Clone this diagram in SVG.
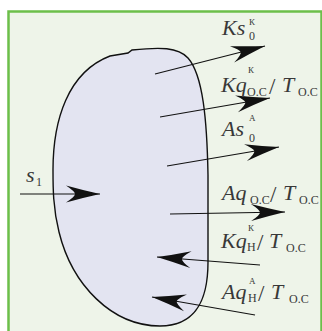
<svg xmlns="http://www.w3.org/2000/svg" width="322" height="331" viewBox="0 0 322 331">
<style>
.t{font-family:"Liberation Serif","Times New Roman",serif;fill:#383838;}
.i{font-style:italic;font-size:22px;}
.sup{font-size:9px;}
.sub{font-size:12px;}
.n{font-size:12px;}
.sl{font-size:23px;}
.ln{stroke:#111;stroke-width:1.1;fill:none;marker-end:url(#ah);}
</style>
<defs>
<marker id="ah" viewBox="-36 -10 38 20" markerWidth="38" markerHeight="20" refX="0" refY="0" orient="auto" markerUnits="userSpaceOnUse">
<path d="M0,0 Q-16,-3.5 -34,-8.5 Q-25,-2.5 -25,0 Q-25,2.5 -34,8.5 Q-16,3.5 0,0 Z" fill="#111"/>
</marker>
</defs>
<rect x="0" y="0" width="322" height="331" fill="#fff"/>
<rect x="8.5" y="11.5" width="313" height="330" fill="#eef4e9" stroke="#6cbf4a" stroke-width="2.5"/>
<g id="body">
<path d="M53,170 C53,120 68,72 110,56 L128,53 L132,50 C160,47 178,47 188,58 C203,75 207,120 208,175 L208,262 C208,300 196,326 160,326 C112,326 72,285 59,232 C53,208 53,188 53,170 Z" fill="#e3e4f1" stroke="#111" stroke-width="1.4"/>
</g>
<g id="connectors">
<line class="ln" x1="155" y1="74" x2="265" y2="46"/>
<line class="ln" x1="160" y1="117" x2="270" y2="98"/>
<line class="ln" x1="167" y1="166" x2="279" y2="147"/>
<line class="ln" x1="170" y1="214" x2="285" y2="212"/>
<line class="ln" x1="260" y1="265" x2="157" y2="257"/>
<line class="ln" x1="255" y1="315" x2="152" y2="297"/>
<line class="ln" x1="20" y1="194" x2="100" y2="194"/>
</g>
<g id="label-Ks0K" class="t">
<text class="t i" x="222" y="35">Ks</text>
<text class="t sup" x="249" y="25">К</text>
<text class="t n" x="249" y="40">0</text>
</g>
<g id="label-KqOC" class="t">
<text class="t i" x="221" y="92">Kq</text>
<text class="t sup" x="248" y="73">К</text>
<text class="t sub" x="247" y="96">О.С</text>
<text class="t sl" x="269" y="94">/</text>
<text class="t i" x="282" y="92">T</text>
<text class="t sub" x="298" y="96">О.С</text>
</g>
<g id="label-As0A" class="t">
<text class="t i" x="222" y="136">As</text>
<text class="t sup" x="249" y="121">А</text>
<text class="t n" x="249" y="142">0</text>
</g>
<g id="label-AqOC" class="t">
<text class="t i" x="222" y="200">Aq</text>
<text class="t sub" x="250" y="204">О.С</text>
<text class="t sl" x="270" y="202">/</text>
<text class="t i" x="283" y="200">T</text>
<text class="t sub" x="299" y="204">О.С</text>
</g>
<g id="label-KqH" class="t">
<text class="t i" x="221" y="248">Kq</text>
<text class="t sup" x="248" y="231">К</text>
<text class="t sub" x="247" y="251">Н</text>
<text class="t sl" x="257" y="250">/</text>
<text class="t i" x="269" y="248">T</text>
<text class="t sub" x="286" y="252">О.С</text>
</g>
<g id="label-AqH" class="t">
<text class="t i" x="222" y="299">Aq</text>
<text class="t sup" x="249" y="284">А</text>
<text class="t sub" x="248" y="302">Н</text>
<text class="t sl" x="258" y="301">/</text>
<text class="t i" x="271" y="299">T</text>
<text class="t sub" x="289" y="303">О.С</text>
</g>
<g id="label-s1" class="t">
<text class="t i" x="26" y="182">s</text>
<text class="t sub" x="36" y="186">1</text>
</g>
</svg>
